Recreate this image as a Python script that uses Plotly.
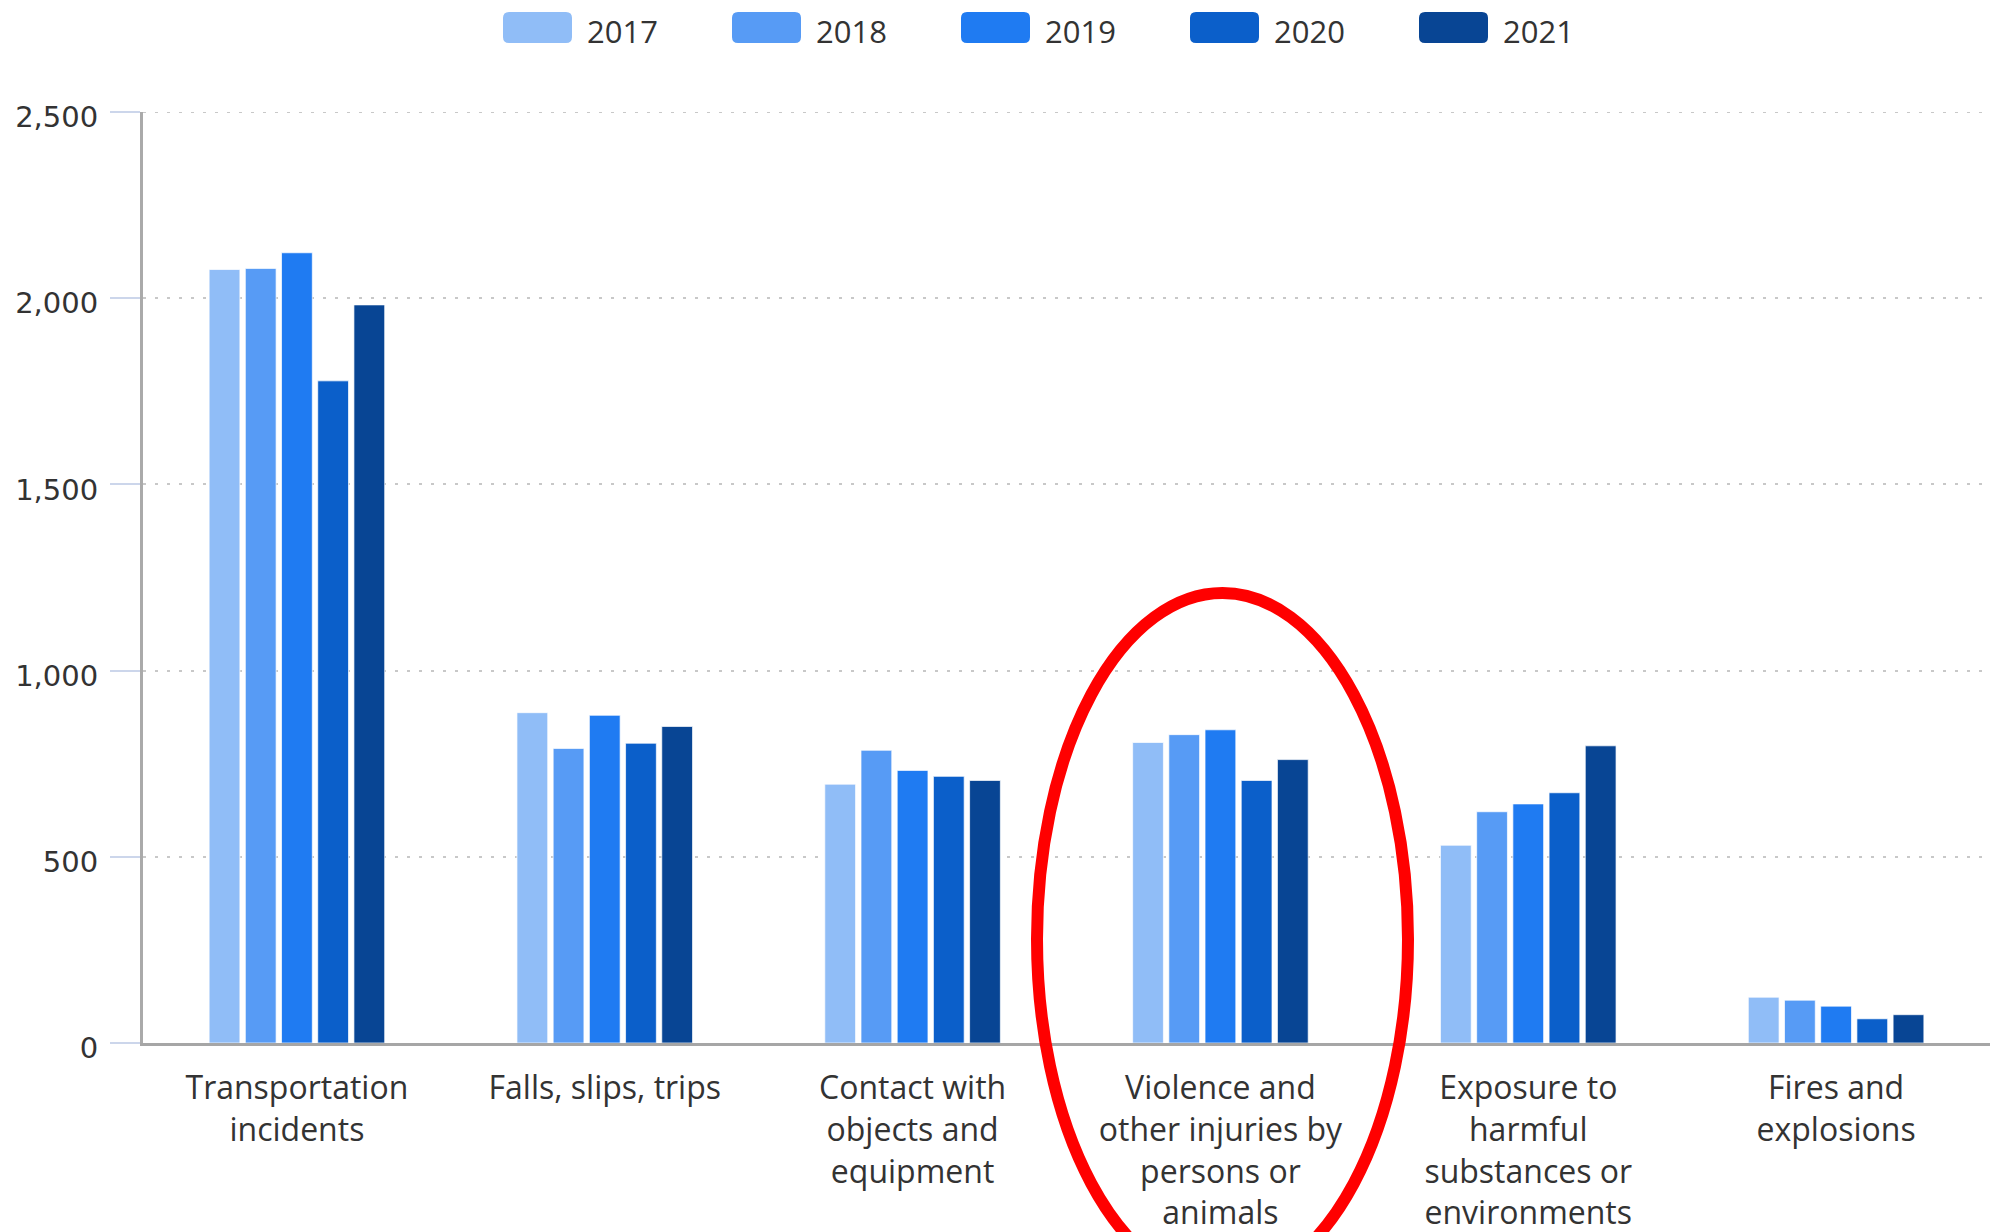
import plotly.graph_objects as go

# Fatal occupational injuries by event, 2017-2021
categories = [
    "Transportation incidents",
    "Falls, slips, trips",
    "Contact with objects and equipment",
    "Violence and other injuries by persons or animals",
    "Exposure to harmful substances or environments",
    "Fires and explosions",
]
tick_labels = [
    "Transportation<br>incidents",
    "Falls, slips, trips",
    "Contact with<br>objects and<br>equipment",
    "Violence and<br>other injuries by<br>persons or<br>animals",
    "Exposure to<br>harmful<br>substances or<br>environments",
    "Fires and<br>explosions",
]
years = ["2017", "2018", "2019", "2020", "2021"]
values_2017 = [2077, 887, 695, 807, 531, 123]
values_2018 = [2080, 791, 786, 828, 621, 115]
values_2019 = [2122, 880, 732, 841, 642, 99]
values_2020 = [1778, 805, 716, 705, 672, 65]
values_2021 = [1982, 850, 705, 761, 798, 76]
series = [values_2017, values_2018, values_2019, values_2020, values_2021]
colors = ["#90bdf7", "#579bf5", "#1f7bf2", "#0b5fca", "#084594"]
y_ticks = [0, 500, 1000, 1500, 2000, 2500]

W, H = 1990, 1232
L, R, T, B = 143, 0, 112, 189
PW, PH = W - L - R, H - T - B


def fx(px):
    return (px - L) / PW


def fy(py):
    return (H - B - py) / PH


def rounded_rect(x0, y0, x1, y1, r):
    # page pixel box -> paper-coordinate path with rounded corners
    rx, ry = r / PW, r / PH
    a, b = fx(x0), fx(x1)
    top, bot = fy(y0), fy(y1)
    return (
        f"M{a + rx},{top} L{b - rx},{top} Q{b},{top} {b},{top - ry} "
        f"L{b},{bot + ry} Q{b},{bot} {b - rx},{bot} "
        f"L{a + rx},{bot} Q{a},{bot} {a},{bot + ry} "
        f"L{a},{top - ry} Q{a},{top} {a + rx},{top} Z"
    )


fig = go.Figure()
for year, vals, col in zip(years, series, colors):
    fig.add_trace(
        go.Bar(
            x=categories,
            y=vals,
            name=year,
            marker=dict(color=col, line=dict(color="rgba(255,255,255,0.7)", width=1)),
            showlegend=False,
            hovertemplate="%{x}<br>" + year + ": %{y:,}<extra></extra>",
        )
    )

shapes = []
annotations = []

# legend row across the top
for i, (year, col) in enumerate(zip(years, colors)):
    x0 = 503 + 229 * i
    shapes.append(
        dict(
            type="path",
            xref="paper",
            yref="paper",
            path=rounded_rect(x0, 12, x0 + 69, 43, 6),
            fillcolor=col,
            line=dict(width=0),
            layer="above",
        )
    )
    annotations.append(
        dict(
            x=fx(x0 + 82),
            y=fy(31),
            xref="paper",
            yref="paper",
            text=year,
            showarrow=False,
            xanchor="left",
            yanchor="middle",
            font=dict(family="Open Sans", size=31, color="#333333"),
        )
    )

# dotted line along the top of the value range
shapes.append(
    dict(
        type="line",
        xref="paper",
        yref="y",
        x0=0,
        x1=1,
        y0=y_ticks[-1],
        y1=y_ticks[-1],
        line=dict(color="#c8c8c8", width=2, dash="3px,9px"),
        layer="below",
    )
)

# red ellipse around the violence category
shapes.append(
    dict(
        type="circle",
        xref="paper",
        yref="paper",
        x0=fx(1037),
        x1=fx(1408),
        y0=fy(1285),
        y1=fy(593),
        line=dict(color="#ff0000", width=12),
        fillcolor="rgba(0,0,0,0)",
        layer="above",
    )
)

fig.update_layout(
    width=W,
    height=H,
    margin=dict(l=L, r=R, t=T, b=B, pad=0),
    paper_bgcolor="white",
    plot_bgcolor="white",
    barmode="group",
    bargap=0.412,
    bargroupgap=0.15,
    shapes=shapes,
    annotations=annotations,
    font=dict(family="Open Sans", color="#333333"),
)

fig.update_xaxes(
    type="category",
    tickmode="array",
    tickvals=categories,
    ticktext=tick_labels,
    tickfont=dict(family="Open Sans", size=32, color="#333333"),
    showgrid=False,
    showline=True,
    linecolor="#a6a6a6",
    linewidth=3,
    ticks="",
    tickangle=0,
    ticklabelstandoff=15,
    range=[-0.5, 5.5],
)

fig.update_yaxes(
    range=[0, 2500],
    tickmode="array",
    tickvals=y_ticks,
    tickformat=",",
    tickfont=dict(family="DejaVu Sans", size=29, color="#333333"),
    showgrid=True,
    gridcolor="#c8c8c8",
    gridwidth=2,
    griddash="3px,9px",
    zeroline=False,
    showline=True,
    linecolor="#aaaaaa",
    linewidth=3,
    ticks="outside",
    ticklen=30,
    tickwidth=2,
    tickcolor="#ccd6eb",
    ticklabelstandoff=6,
    ticklabelshift=5,
)

fig.write_html("out.html")
